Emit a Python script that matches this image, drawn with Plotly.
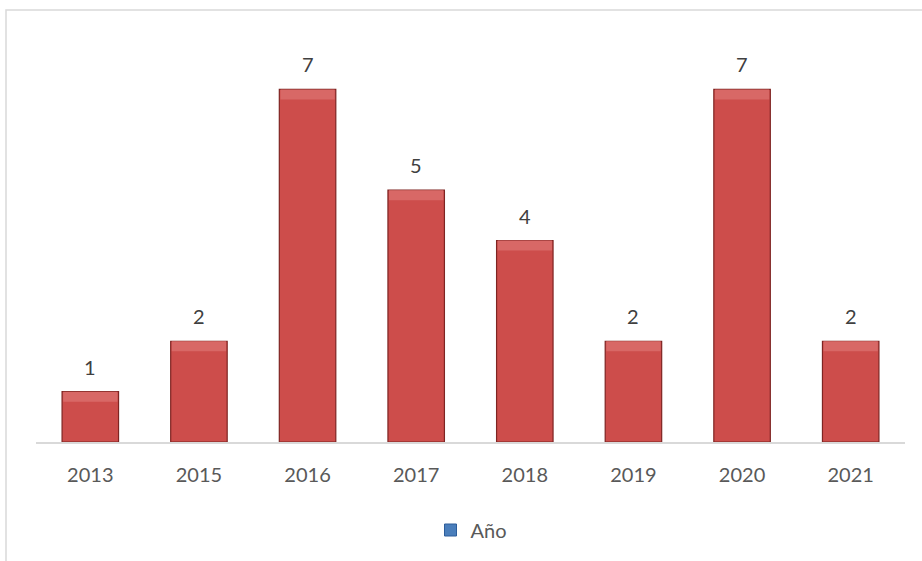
import plotly.graph_objects as go

years = ["2013", "2015", "2016", "2017", "2018", "2019", "2020", "2021"]
counts = [1, 2, 7, 5, 4, 2, 7, 2]
series_name = "Año"

W, H = 922, 561
L, R, T, B = 36, 17, 39, 119
pw, ph = W - L - R, H - T - B
FONT = "Lato, Open Sans, sans-serif"
BEVEL = 0.2  # height of the lighter top bevel, in value units (style only)

fig = go.Figure()
fig.add_trace(go.Bar(
    x=years, y=counts, width=0.52,
    marker=dict(color="#CD4D4B", line=dict(color="#7E2422", width=1.2)),
    showlegend=False, hoverinfo="x+y",
))
# lighter top bevel band
fig.add_trace(go.Bar(
    x=years, y=[BEVEL] * len(counts), base=[c - BEVEL for c in counts], width=0.50,
    marker=dict(color="#D86866", line=dict(width=0)),
    showlegend=False, hoverinfo="skip",
))
# legend key (blue, as in the original)
fig.add_trace(go.Scatter(
    x=[years[0]], y=[None], mode="markers", name=series_name,
    marker=dict(symbol="square", size=12, color="#4A7EBB",
                line=dict(color="#2C5D9A", width=1)),
))

for i, yv in enumerate(counts):
    fig.add_annotation(x=i, y=yv, xref="x", yref="y", text=str(yv), showarrow=False,
                       yshift=25, font=dict(size=20, color="#404040", family=FONT))

# outer chart border
fig.add_shape(type="rect", xref="paper", yref="paper",
              x0=(6 - L) / pw, x1=(W + 20 - L) / pw,
              y0=-(H + 20 - T - ph) / ph, y1=(T + ph - 10) / ph,
              line=dict(color="#D9D9D9", width=1.5), layer="below")

fig.update_layout(
    width=W, height=H,
    margin=dict(l=L, r=R, t=T, b=B),
    paper_bgcolor="white", plot_bgcolor="white",
    barmode="overlay",
    font=dict(family=FONT, size=20, color="#595959"),
    xaxis=dict(type="category", categoryorder="array", categoryarray=years,
               range=[-0.5, len(years) - 0.5],
               showgrid=False, showline=True, linecolor="#D9D9D9", linewidth=1.5,
               ticks="outside", ticklen=14, tickcolor="rgba(0,0,0,0)",
               tickfont=dict(size=20, color="#595959"), fixedrange=True),
    yaxis=dict(range=[0, 8], showgrid=False, showticklabels=False,
               zeroline=False, showline=False, fixedrange=True),
    showlegend=True,
    legend=dict(orientation="h", x=(471 - L) / pw, xanchor="center",
                y=-(530 - T - ph) / ph, yanchor="middle",
                font=dict(size=20, color="#595959"), itemwidth=30),
)

fig.write_html("out.html")
